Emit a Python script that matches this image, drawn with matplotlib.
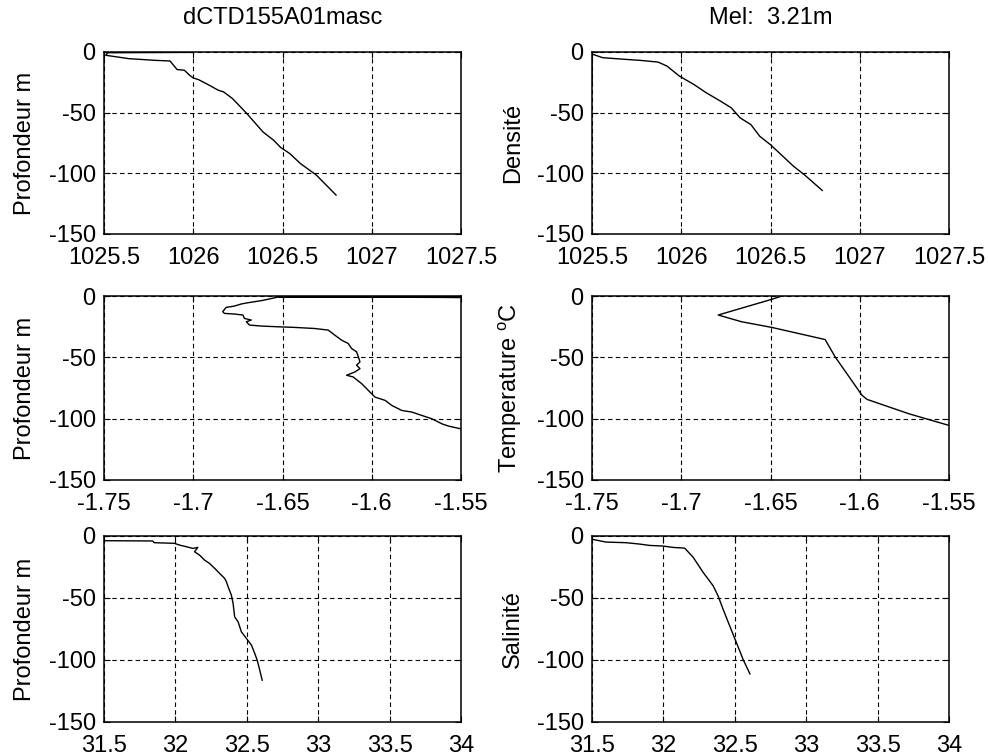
import numpy as np
import matplotlib
matplotlib.use('Agg')
import matplotlib.pyplot as plt

plt.rcParams['font.family'] = ['Liberation Sans', 'DejaVu Sans']
plt.rcParams['mathtext.fontset'] = 'custom'
plt.rcParams['mathtext.rm'] = 'Liberation Sans'
plt.rcParams['mathtext.it'] = 'Liberation Sans'

# density (raw cast) : x = density, y = depth
dens_raw_x = [1026.0, 1025.52, 1025.51, 1025.64, 1025.79, 1025.87, 1025.89, 1025.91,
              1025.95, 1025.98, 1026.0, 1026.03, 1026.09, 1026.14, 1026.17, 1026.22,
              1026.30, 1026.39, 1026.45, 1026.49, 1026.54, 1026.60, 1026.69, 1026.80]
dens_raw_y = [-0.3, -0.6, -2.7, -5.5, -6.9, -7.4, -11.0, -14.5,
              -15.0, -19.2, -21.4, -22.8, -27.4, -31.5, -32.9, -38.4,
              -50.7, -65.8, -72.7, -78.7, -83.6, -91.9, -101.5, -117.9]

# density (binned)
dens_bin_x = [1025.5, 1025.5, 1025.504, 1025.56, 1025.69, 1025.77, 1025.87, 1025.92,
              1025.99, 1026.07, 1026.14, 1026.22, 1026.28, 1026.33, 1026.39, 1026.44,
              1026.50, 1026.55, 1026.63, 1026.69, 1026.79]
dens_bin_y = [-25.0, -1.5, -1.9, -4.7, -6.1, -6.9, -8.3, -11.6,
              -19.9, -26.7, -33.6, -40.5, -46.0, -54.3, -59.8, -69.5,
              -76.4, -83.3, -94.3, -101.2, -114.1]

# temperature (raw cast)
temp_raw_x = [-1.545, -1.6525, -1.545, -1.6525, -1.6582, -1.6619, -1.6694, -1.6731,
              -1.6769, -1.6816, -1.6835, -1.6825, -1.6769, -1.6722, -1.6713, -1.6675,
              -1.6703, -1.6685, -1.6619, -1.6525, -1.6432, -1.6319, -1.6244, -1.6207,
              -1.6169, -1.6132, -1.6113, -1.6085, -1.6075, -1.6066, -1.6085, -1.6066,
              -1.6094, -1.6141, -1.6104, -1.6057, -1.6010, -1.5982, -1.5925, -1.5888,
              -1.5832, -1.5776, -1.5719, -1.5663, -1.5607, -1.5569, -1.5500, -1.5450]
temp_raw_y = [-0.3, -0.4, -1.2, -0.8, -2.7, -3.8, -5.5, -6.5,
              -8.2, -9.3, -12.8, -14.2, -14.7, -15.5, -18.3, -19.6,
              -21.0, -23.7, -24.5, -25.1, -25.6, -26.5, -27.8, -31.9,
              -36.0, -38.7, -42.8, -45.5, -49.6, -53.7, -56.4, -59.2,
              -61.9, -64.6, -66.0, -71.4, -78.3, -82.4, -85.1, -89.2,
              -93.3, -94.6, -97.4, -100.1, -104.2, -106.1, -108.3, -109.0]

# temperature (binned)
temp_bin_x = [-1.6447, -1.6493, -1.6793, -1.6662, -1.6493, -1.6194, -1.6138, -1.5987,
              -1.5959, -1.5725, -1.5500]
temp_bin_y = [-0.5, -2.7, -15.5, -21.0, -25.6, -35.5, -49.6, -81.0,
              -84.3, -96.0, -105.5]

# salinity (raw cast)
sal_raw_x = [31.512, 31.840, 31.852, 31.993, 32.028, 32.075, 32.122, 32.157,
             32.134, 32.169, 32.204, 32.239, 32.275, 32.310, 32.345, 32.357,
             32.369, 32.392, 32.404, 32.415, 32.439, 32.462, 32.498, 32.533,
             32.556, 32.573, 32.585, 32.608]
sal_raw_y = [-3.8, -4.0, -5.4, -5.9, -7.3, -8.6, -10.0, -9.2,
             -12.7, -15.4, -19.4, -22.1, -26.1, -30.2, -34.2, -36.9,
             -40.9, -47.7, -54.4, -65.2, -69.2, -77.3, -82.7, -88.1,
             -94.8, -100.2, -105.6, -116.3]

# salinity (binned)
sal_bin_x = [31.505, 31.598, 31.739, 31.833, 31.903, 31.997, 32.067, 32.149,
             32.208, 32.278, 32.348, 32.383, 32.418, 32.465, 32.512, 32.559, 32.606]
sal_bin_y = [-2.7, -4.9, -5.4, -6.5, -7.6, -8.1, -9.2, -9.8,
             -17.1, -29.3, -40.1, -48.3, -59.1, -72.7, -86.2, -99.8, -111.2]

xlims = [(1025.5, 1027.5), (-1.75, -1.55), (31.5, 34)]
xticks = [[1025.5, 1026, 1026.5, 1027, 1027.5],
          [-1.75, -1.7, -1.65, -1.6, -1.55],
          [31.5, 32, 32.5, 33, 33.5, 34]]
xticklabels = [['1025.5', '1026', '1026.5', '1027', '1027.5'],
               ['-1.75', '-1.7', '-1.65', '-1.6', '-1.55'],
               ['31.5', '32', '32.5', '33', '33.5', '34']]
yticks = [0, -50, -100, -150]
left_labels = ['Profondeur m', 'Profondeur m', 'Profondeur m']
right_labels = ['Densité', 'Temperature $^{\\rm o}$C', 'Salinité']
titles = ['dCTD155A01masc', 'Mel:  3.21m']

series = [[(dens_raw_x, dens_raw_y), (dens_bin_x, dens_bin_y)],
          [(temp_raw_x, temp_raw_y), (temp_bin_x, temp_bin_y)],
          [(sal_raw_x, sal_raw_y), (sal_bin_x, sal_bin_y)]]

fig = plt.figure(figsize=(9.88, 7.55), dpi=100)

W, H = 988.0, 755.0
col_left = [104, 592]
col_w = 357
rows = [(52, 234), (296, 480), (536, 722)]

fs = 17
for i in range(3):
    for j in range(2):
        top, bot = rows[i]
        ax = fig.add_axes([col_left[j] / W, 1 - bot / H, col_w / W, (bot - top) / H])
        x, y = series[i][j]
        ax.plot(x, y, color='black', linewidth=1.0)
        ax.set_xlim(*xlims[i])
        ax.set_ylim(-150, 0)
        ax.set_xticks(xticks[i])
        ax.set_xticklabels(xticklabels[i])
        ax.set_yticks(yticks)
        ax.set_yticklabels(['0', '-50', '-100', '-150'])
        ax.grid(True, color='black', linestyle=(0, (4, 3)), linewidth=0.8)
        ax.tick_params(direction='in', length=4, top=True, right=True,
                       labelsize=fs, width=0.8)
        ax.tick_params(axis='x', pad=9)
        ax.tick_params(axis='y', pad=6)
        for s in ax.spines.values():
            s.set_linewidth(1.1)
        if j == 0:
            ax.set_ylabel(left_labels[i], fontsize=fs, labelpad=9)
        else:
            ax.set_ylabel(right_labels[i], fontsize=fs, labelpad=9)
        if i == 0:
            ax.set_title(titles[j], fontsize=fs, pad=20)

fig.savefig('out.png', dpi=100)
